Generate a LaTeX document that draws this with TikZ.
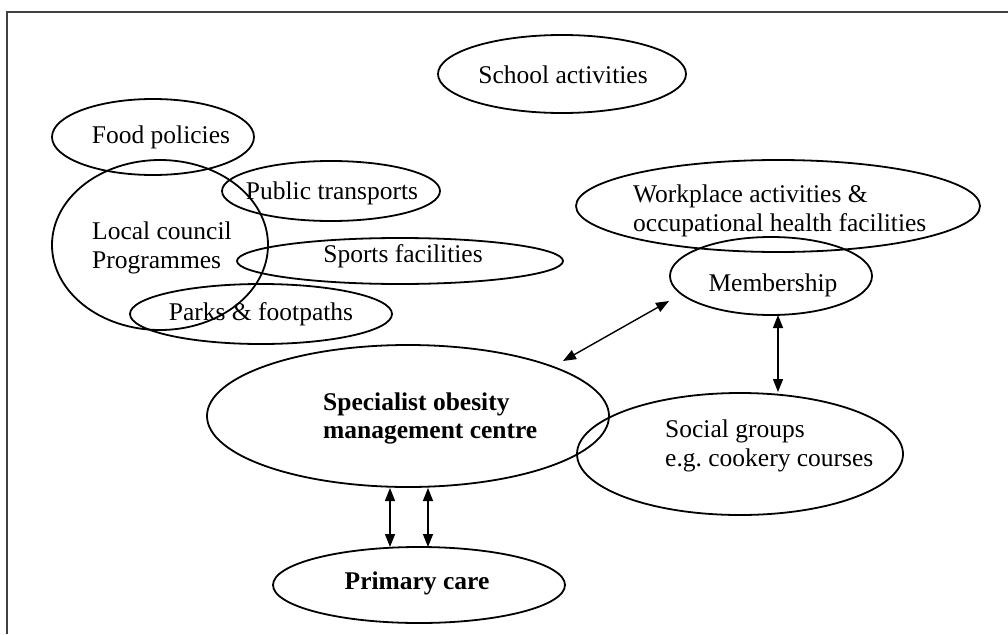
\documentclass[tikz,border=0pt]{standalone}
\usepackage{fontspec}
\setmainfont{Liberation Serif}
\usetikzlibrary{shapes.geometric,arrows.meta}
\frenchspacing
\begin{document}
\begin{tikzpicture}[x=1pt,y=-1pt,
  ell/.style={draw, ellipse, line width=1.8pt, inner sep=0pt},
  txt/.style={font=\fontsize{25.5}{29}\selectfont, inner sep=0pt, align=left},
  btxt/.style={font=\fontsize{25.5}{28}\selectfont\bfseries, inner sep=0pt, align=left},
  link/.style={line width=1.4pt, {Triangle[length=13pt,width=10pt]}-{Triangle[length=13pt,width=10pt]}},
  frameline/.style={line width=1.4pt, black!75}]
\useasboundingbox (0,0) rectangle (1008,634);

% frame
\coordinate (fbl) at (7,634);
\coordinate (ftl) at (7,12);
\coordinate (ftr) at (1008,12);
\draw[frameline] (fbl) -- (ftl) -- (ftr);

% ellipses
\node[ell, minimum width=248pt, minimum height=78pt] (school) at (562,74) {};
\node[ell, minimum width=202pt, minimum height=76pt] (food) at (153,137) {};
\node[ell, minimum width=216pt, minimum height=170pt] (local) at (160,245) {};
\node[ell, minimum width=218pt, minimum height=60pt] (public) at (331,191) {};
\node[ell, minimum width=326pt, minimum height=46pt] (sports) at (400,261) {};
\node[ell, minimum width=262pt, minimum height=60pt] (parks) at (261,314) {};
\node[ell, minimum width=404pt, minimum height=92pt] (work) at (778,206) {};
\node[ell, minimum width=202pt, minimum height=78pt] (memb) at (771,276) {};
\node[ell, minimum width=402pt, minimum height=142pt] (spec) at (408,416) {};
\node[ell, minimum width=326pt, minimum height=122pt] (social) at (740,454) {};
\node[ell, minimum width=292pt, minimum height=76pt] (primary) at (419,585) {};

% texts
\node[txt] (school-t) at (563,75) {School activities};
\node[txt] (food-t) at (161,137) {Food policies};
\node[txt, anchor=west] (local-t) at (92,248) {Local council\\Programmes};
\node[txt] (public-t) at (332,193) {Public transports};
\node[txt] (sports-t) at (403,256) {Sports facilities};
\node[txt] (parks-t) at (261,314) {Parks \& footpaths};
\node[txt, anchor=west] (work-t) at (633,211) {Workplace activities \&\\occupational health facilities};
\node[txt] (memb-t) at (773,285) {Membership};
\node[btxt, anchor=west] (spec-t) at (323,418) {Specialist obesity\\management centre};
\node[txt, anchor=west] (social-t) at (665,446) {Social groups\\e.g. cookery courses};
\node[btxt] (primary-t) at (417,583) {Primary care};

% arrows
\coordinate (a1) at (563,361);
\coordinate (a2) at (669,301);
\coordinate (b1) at (778,315);
\coordinate (b2) at (778,392);
\coordinate (c1) at (390,488);
\coordinate (c2) at (390,547);
\coordinate (d1) at (428,488);
\coordinate (d2) at (428,547);
\draw[link] (a1) -- (a2);
\draw[link] (b1) -- (b2);
\draw[link] (c1) -- (c2);
\draw[link] (d1) -- (d2);
\end{tikzpicture}
\end{document}
